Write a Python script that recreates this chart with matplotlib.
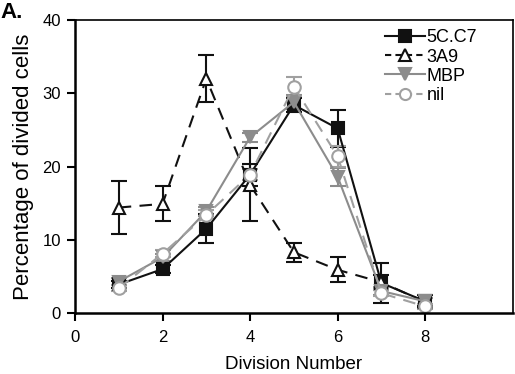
import matplotlib
matplotlib.use("Agg")
import matplotlib.pyplot as plt
from matplotlib.lines import Line2D

plt.rcParams['font.family'] = ['Liberation Sans', 'DejaVu Sans']

divisions = [1, 2, 3, 4, 5, 6, 7, 8]

c5c7 = [3.9, 6.0, 11.5, 18.9, 28.4, 25.2, 4.1, 1.6]
c5c7_err = [0.5, 0.5, 2.0, 1.5, 1.0, 2.5, 2.7, 0.8]

a3a9 = [14.4, 14.9, 32.0, 17.5, 8.3, 5.9, 4.2, 1.5]
a3a9_err = [3.6, 2.4, 3.2, 5.0, 1.3, 1.7, 1.0, 0.5]

mbp = [4.3, 7.6, 13.9, 24.0, 28.8, 18.6, 3.0, 1.6]
mbp_err = [0.5, 0.5, 0.6, 0.6, 1.0, 1.2, 0.5, 0.4]

nil = [3.4, 8.1, 13.4, 18.9, 30.9, 21.4, 2.7, 0.9]
nil_err = [0.4, 0.5, 0.6, 0.8, 1.3, 1.4, 0.4, 0.3]

labels = ["5C.C7", "3A9", "MBP", "nil"]

fig = plt.figure(figsize=(5.15, 3.74), dpi=100)
ax = fig.add_axes([0.1456, 0.163, 0.850, 0.7835])

dark = "#111111"
grey = "#8c8c8c"
lgrey = "#a0a0a0"
dash = (0, (6, 4))

common = dict(capsize=6, elinewidth=1.5, capthick=1.5, markersize=9, lw=1.5)

styles = [
    dict(color=dark, marker='s', mfc=dark, mec=dark, ls='-'),
    dict(color=dark, marker='^', mfc='white', mec=dark, ls=dash),
    dict(color=grey, marker='v', mfc=grey, mec=grey, ls='-'),
    dict(color=lgrey, marker='o', mfc='white', mec=lgrey, ls=dash),
]
series = [(c5c7, c5c7_err), (a3a9, a3a9_err), (mbp, mbp_err), (nil, nil_err)]

for (vals, errs), st in zip(series, styles):
    ax.errorbar(divisions, vals, yerr=errs, mew=1.5, **st, **common)

ax.set_xlim(0, 10)
ax.set_ylim(0, 40)
ax.set_xticks([0, 2, 4, 6, 8])
ax.set_yticks([0, 10, 20, 30, 40])
ax.tick_params(axis='both', direction='out', length=6, width=1.5,
               labelsize=12, pad=4)
ax.tick_params(axis='x', pad=6)
ax.tick_params(top=False, right=False)
for side in ['left', 'bottom']:
    ax.spines[side].set_linewidth(1.8)
for side in ['top', 'right']:
    ax.spines[side].set_linewidth(1.2)

ax.set_xlabel("Division Number", fontsize=13.5, labelpad=8)
ax.set_ylabel("Percentage of divided cells", fontsize=16, labelpad=6)

handles = []
for st in styles:
    ls = (0, (3, 2)) if st['ls'] != '-' else '-'
    handles.append(Line2D([], [], color=st['color'], marker=st['marker'],
                          mfc=st['mfc'], mec=st['mec'], ls=ls, lw=1.5,
                          mew=1.5, markersize=8))
ax.legend(handles, labels, loc='upper left', bbox_to_anchor=(0.70, 0.98),
          frameon=False, fontsize=13, handlelength=2.2, handletextpad=0.1,
          labelspacing=0.12, borderaxespad=0.0, borderpad=0.2)

fig.text(0.0, 0.995, "A.", fontsize=16, fontweight='bold', va='top')

fig.savefig("out.png", dpi=100)
